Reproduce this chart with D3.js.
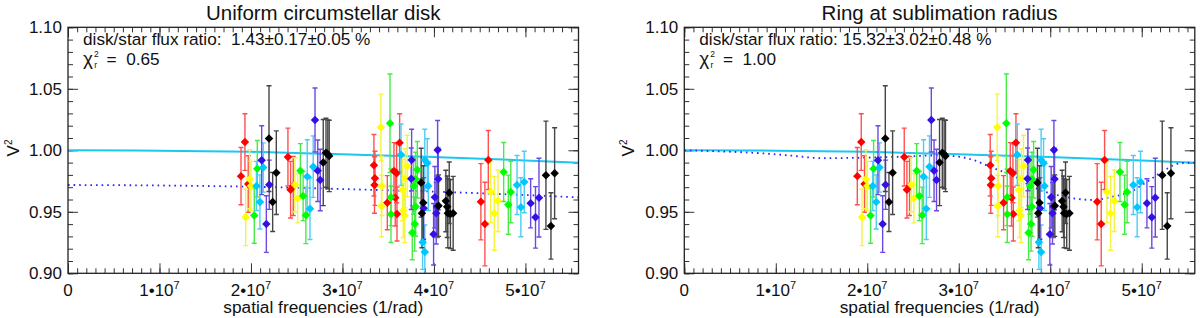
<!DOCTYPE html>
<html>
<head>
<meta charset="utf-8">
<title>V2 versus spatial frequency</title>
<style>
  body { margin: 0; background: #fff; }
  svg { display: block; font-family: "Liberation Sans", Arial, Helvetica, sans-serif; }
  text { white-space: pre; }
</style>
</head>
<body>
<script src="https://cdn.jsdelivr.net/npm/d3@7"></script>
<script>

// Spatial frequencies are in units of 1e7 (1/rad); one array set per colour
var redFreq = [1.891, 1.934, 1.970, 2.404, 2.433, 2.462, 3.344, 3.355, 3.350, 3.490, 3.625, 3.563, 3.592, 3.577, 3.596, 4.513, 4.557, 4.594];
var redV2   = [0.979, 1.0067, 0.9726, 0.9945, 0.968, 0.971, 0.9878, 0.9772, 0.9718, 0.9574, 1.0062, 0.9832, 0.9813, 0.9615, 0.9482, 0.9582, 0.940, 0.9921];
var redErr  = [0.0233, 0.023, 0.023, 0.0235, 0.023, 0.024, 0.025, 0.022, 0.023, 0.022, 0.0235, 0.023, 0.024, 0.023, 0.022, 0.031, 0.034, 0.024];

var yellowFreq = [1.942, 1.985, 2.000, 2.480, 2.510, 3.420, 3.430, 3.426, 3.708, 3.686, 3.657, 3.664, 3.680, 4.620, 4.660, 4.700];
var yellowV2   = [0.9455, 0.9765, 0.971, 0.972, 0.961, 1.0187, 0.971, 0.9547, 0.9872, 0.9772, 0.9677, 0.951, 0.9469, 0.9661, 0.9488, 0.959];
var yellowErr  = [0.023, 0.024, 0.02, 0.022, 0.02, 0.027, 0.024, 0.025, 0.025, 0.024, 0.025, 0.022, 0.022, 0.025, 0.03, 0.025];

var greenFreq = [2.036, 2.069, 2.540, 2.570, 2.600, 3.520, 3.530, 3.530, 3.818, 3.800, 3.778, 3.800, 3.790, 3.763, 4.762, 4.813, 4.840];
var greenV2   = [0.9469, 0.985, 0.9834, 0.9628, 0.9471, 1.022, 0.9618, 0.948, 0.9842, 0.9764, 0.971, 0.9541, 0.940, 0.933, 0.9824, 0.9558, 0.9661];
var greenErr  = [0.0225, 0.023, 0.022, 0.02, 0.023, 0.04, 0.023, 0.023, 0.023, 0.022, 0.023, 0.024, 0.022, 0.022, 0.024, 0.024, 0.025];

var cyanFreq = [2.060, 2.098, 2.134, 2.615, 2.645, 2.680, 3.640, 3.900, 3.927, 3.938, 3.876, 3.900, 4.908, 4.950, 4.987];
var cyanV2   = [0.971, 0.958, 0.986, 0.9786, 0.9525, 0.9867, 0.9964, 0.9921, 0.9894, 0.971, 0.9252, 0.9173, 0.9718, 0.9537, 0.9742];
var cyanErr  = [0.02, 0.022, 0.02, 0.03, 0.025, 0.025, 0.025, 0.025, 0.02, 0.02, 0.022, 0.022, 0.024, 0.024, 0.025];

var blueFreq = [2.117, 2.168, 2.200, 2.700, 2.730, 2.757, 3.756, 3.752, 3.888, 4.040, 4.047, 4.010, 4.036, 4.025, 3.996, 5.057, 5.110, 5.148];
var blueV2   = [0.992, 0.940, 0.972, 1.0246, 0.9834, 0.9758, 0.9921, 0.9769, 0.9528, 1.0002, 0.9767, 0.9618, 0.9541, 0.9488, 0.9317, 0.9569, 0.9455, 0.9615];
var blueErr  = [0.028, 0.023, 0.02, 0.026, 0.025, 0.025, 0.025, 0.025, 0.025, 0.024, 0.025, 0.025, 0.025, 0.025, 0.025, 0.02, 0.025, 0.032];

var blackFreq = [2.197, 2.237, 2.277, 2.790, 2.820, 2.840, 2.855, 3.860, 3.883, 3.869, 4.050, 4.130, 4.167, 4.145, 4.152, 4.180, 4.210, 5.224, 5.279, 5.319];
var blackV2   = [1.0095, 0.958, 0.9818, 0.990, 0.998, 0.9967, 0.9954, 0.9737, 0.9574, 0.9488, 0.955, 0.9588, 0.9655, 0.9541, 0.9488, 0.9482, 0.9488, 0.9797, 0.9385, 0.9813];
var blackErr  = [0.043, 0.024, 0.034, 0.035, 0.028, 0.028, 0.029, 0.028, 0.03, 0.028, 0.025, 0.025, 0.025, 0.025, 0.028, 0.028, 0.03, 0.044, 0.027, 0.037];

// Model curves (frequency in 1e7)
var modelFreq = [0, 1, 2, 3, 4, 5, 5.58];
var starModel = [1.000, 0.9997, 0.9988, 0.9967, 0.9945, 0.9918, 0.9898];
var diskModel = [0.9718, 0.9714, 0.9704, 0.9685, 0.9664, 0.9636, 0.9617];
var ringFreq  = [0, 0.47, 0.84, 1.18, 1.5, 1.95, 2.36, 2.75, 2.98, 3.16, 3.3, 3.43, 3.58, 3.74, 3.89, 4.07, 4.25, 4.47, 4.66, 4.87, 5.06, 5.24, 5.42, 5.58];
var ringModel = [1.000, 0.9989, 0.9976, 0.9956, 0.9936, 0.9940, 0.9948, 0.9958, 0.9950, 0.9921, 0.988, 0.984, 0.980, 0.973, 0.9677, 0.9637, 0.961, 0.9596, 0.962, 0.966, 0.9745, 0.9834, 0.9895, 0.990];

var xTicks = [0, 1, 2, 3, 4, 5];
var yTicks = [0.90, 0.95, 1.00, 1.05, 1.10];

var panelTitles = ["Uniform circumstellar disk", "Ring at sublimation radius"];
var ratioLabels = ["disk/star flux ratio:  1.43\u00b10.17\u00b10.05 %", "disk/star flux ratio: 15.32\u00b13.02\u00b10.48 %"];
var chiLabels = ["0.65", "1.00"];

// build the series list from the arrays above
var series = [
    {fill: "#ff0000", bar: "#ff5050", f: redFreq, v: redV2, e: redErr},
    {fill: "#ffff00", bar: "#f4f440", f: yellowFreq, v: yellowV2, e: yellowErr},
    {fill: "#00ff00", bar: "#48ea48", f: greenFreq, v: greenV2, e: greenErr},
    {fill: "#00c8ff", bar: "#4ccdf4", f: cyanFreq, v: cyanV2, e: cyanErr},
    {fill: "#3410e4", bar: "#6a4ae2", f: blueFreq, v: blueV2, e: blueErr},
    {fill: "#000000", bar: "#454545", f: blackFreq, v: blackV2, e: blackErr}
];
series.forEach(function(s) {
    s.points = s.f.map(function(f, i) { return {f: f, v: s.v[i], e: s.e[i]}; });
});

var width = 510.5, height = 246, plotTop = 27.3;
var panelLeft = [68, 684.3];

var svg = d3.select("body").append("svg")
    .attr("width", 1200)
    .attr("height", 318);

var x = d3.scaleLinear().domain([0, 5.58]).range([0, width]);
var y = d3.scaleLinear().domain([0.9, 1.1]).range([height, 0]);

var line = d3.line()
    .x(function(d) { return x(d[0]); })
    .y(function(d) { return y(d[1]); })
    .curve(d3.curveMonotoneX);

function zip(a, b) { return a.map(function(v, i) { return [v, b[i]]; }); }

var minorX = d3.range(0, 5.58, 0.1);
var minorY = d3.range(0.90, 1.1001, 0.01);

function drawPanel(p) {
    var g = svg.append("g").attr("transform", "translate(" + panelLeft[p] + "," + plotTop + ")");

    g.append("clipPath").attr("id", "clip" + p)
        .append("rect").attr("width", width).attr("height", height);

    // ticks, all pointing inward
    var axes = [
        [d3.axisBottom(x).tickValues(xTicks).tickSize(-10), "translate(0," + height + ")"],
        [d3.axisBottom(x).tickValues(minorX).tickSize(-5), "translate(0," + height + ")"],
        [d3.axisTop(x).tickValues(xTicks).tickSize(-10), null],
        [d3.axisTop(x).tickValues(minorX).tickSize(-5), null],
        [d3.axisRight(y).tickValues(yTicks).tickSize(-10), "translate(" + width + ",0)"],
        [d3.axisRight(y).tickValues(minorY).tickSize(-5), "translate(" + width + ",0)"],
        [d3.axisLeft(y).tickValues(minorY).tickSize(-5), null]
    ];
    axes.forEach(function(a) {
        var ag = g.append("g").call(a[0].tickFormat(""));
        if (a[1]) ag.attr("transform", a[1]);
        ag.select(".domain").remove();
        ag.selectAll("line").attr("stroke", "#333").attr("stroke-width", 1);
    });

    var yAxis = g.append("g")
        .call(d3.axisLeft(y).tickValues(yTicks).tickSize(-10).tickPadding(6).tickFormat(d3.format(".2f")));
    yAxis.select(".domain").remove();
    yAxis.selectAll("line").attr("stroke", "#333");
    yAxis.selectAll("text").attr("font-size", 17).attr("fill", "#111")
        .attr("font-family", "Liberation Sans, Arial, sans-serif");

    // x tick labels like 2•10^7
    g.append("g").selectAll("text")
        .data(xTicks).enter().append("text")
        .attr("x", function(d) { return x(d); })
        .attr("y", height + 23)
        .attr("text-anchor", "middle")
        .attr("font-size", 17)
        .attr("fill", "#111")
        .each(function(d) {
            var t = d3.select(this);
            if (d === 0) { t.text("0"); return; }
            t.append("tspan").text(d + "\u202210");
            t.append("tspan").attr("font-size", 11).attr("dy", -7).text("7");
        });

    // models
    g.append("path")
        .datum(zip(modelFreq, starModel))
        .attr("d", line)
        .attr("fill", "none")
        .attr("stroke", "#1ec6f2")
        .attr("stroke-width", 2);

    g.append("path")
        .datum(p === 0 ? zip(modelFreq, diskModel) : zip(ringFreq, ringModel))
        .attr("d", line)
        .attr("fill", "none")
        .attr("stroke", "#2626ff")
        .attr("stroke-width", 1.8)
        .attr("stroke-dasharray", "1.6,4");

    // data: error bars then diamonds
    var data = g.append("g").attr("clip-path", "url(#clip" + p + ")");
    series.forEach(function(s) {
        var bars = data.append("g").attr("stroke", s.bar).attr("stroke-width", 1.4);
        bars.selectAll(".eb").data(s.points).enter().append("path")
            .attr("fill", "none")
            .attr("d", function(d) {
                var cx = x(d.f), y1 = y(d.v + d.e), y2 = y(d.v - d.e);
                return "M" + cx + "," + y1 + "V" + y2 +
                    "M" + (cx - 2.5) + "," + y1 + "H" + (cx + 2.5) +
                    "M" + (cx - 2.5) + "," + y2 + "H" + (cx + 2.5);
            });
    });
    series.forEach(function(s) {
        data.append("g").selectAll("path").data(s.points).enter().append("path")
            .attr("d", d3.symbol(d3.symbolSquare, 36))
            .attr("transform", function(d) { return "translate(" + x(d.f) + "," + y(d.v) + ") rotate(45)"; })
            .attr("fill", s.fill);
    });

    // frame
    g.append("rect")
        .attr("width", width).attr("height", height)
        .attr("fill", "none").attr("stroke", "#222").attr("stroke-width", 1.3);

    // title and axis titles
    g.append("text")
        .attr("x", width / 2).attr("y", 19.5 - plotTop)
        .attr("text-anchor", "middle").attr("font-size", 20.5).attr("fill", "#111")
        .text(panelTitles[p]);

    g.append("text")
        .attr("x", width / 2).attr("y", height + 40)
        .attr("text-anchor", "middle").attr("font-size", 17.3).attr("fill", "#111")
        .text("spatial frequencies (1/rad)");

    var yl = g.append("text")
        .attr("transform", "translate(" + (p === 0 ? -49 : -50.3) + "," + (148 - plotTop) + ") rotate(-90)")
        .attr("text-anchor", "middle").attr("font-size", 17).attr("fill", "#111");
    yl.append("tspan").text("V");
    yl.append("tspan").attr("font-size", 10).attr("dy", -7).text("2");

    // annotations
    g.append("text")
        .attr("x", 15).attr("y", 45 - plotTop)
        .attr("font-size", 17.2).attr("fill", "#111")
        .text(ratioLabels[p]);

    var chi = g.append("text")
        .attr("x", 15).attr("y", 65 - plotTop)
        .attr("font-size", 17.2).attr("fill", "#111");
    chi.append("tspan").attr("font-size", 19).text("\u03c7");
    chi.append("tspan").attr("font-size", 8.5).attr("dx", 1).attr("dy", -8).text("2");
    chi.append("tspan").attr("font-size", 8.5).attr("dx", -4.5).attr("dy", 11).text("r");
    chi.append("tspan").attr("dy", -3).text("  =  " + chiLabels[p]);
}

drawPanel(0);
drawPanel(1);

</script>
</body>
</html>
